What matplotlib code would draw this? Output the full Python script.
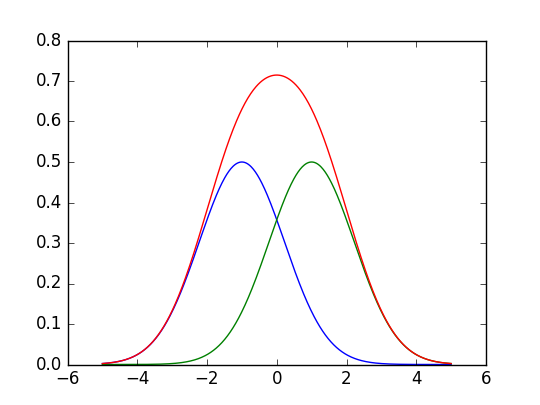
import numpy as np
import matplotlib
matplotlib.use("Agg")
import matplotlib.pyplot as plt

plt.style.use("classic")

# two gaussian components
centres = [-1.0, 1.0]
heights = [0.5, 0.5]
sigma = 1.22
colors = ["b", "g"]

x = np.linspace(-5, 5, 500)

fig = plt.figure(figsize=(5.4, 4.05), dpi=100)
ax = fig.add_subplot(111)
total = np.zeros_like(x)
for c, h, col in zip(centres, heights, colors):
    y = h * np.exp(-(x - c) ** 2 / (2 * sigma ** 2))
    total += y
    ax.plot(x, y, color=col)
ax.plot(x, total, color="r")
ax.set_xlim(-6, 6)
ax.set_ylim(0, 0.8)
fig.savefig("out.png", dpi=100, facecolor="white")
